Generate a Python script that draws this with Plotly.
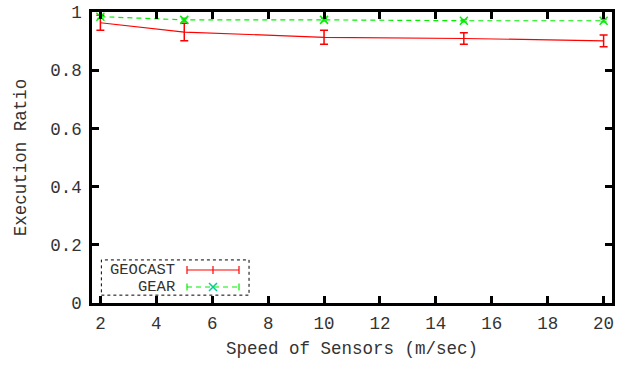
import plotly.graph_objects as go

# Sensor speeds (m/sec)
speeds = [2, 5, 10, 15, 20]

# Execution ratio per protocol, with error-bar half widths
geocast = [0.963, 0.931, 0.913, 0.909, 0.901]
geocast_err = [0.026, 0.030, 0.024, 0.020, 0.020]
gear = [0.984, 0.973, 0.973, 0.970, 0.970]
gear_err = [0.006, 0.006, 0.004, 0.004, 0.004]

x_ticks = [2, 4, 6, 8, 10, 12, 14, 16, 18, 20]
y_ticks = [0, 0.2, 0.4, 0.6, 0.8, 1]
y_tick_text = ["0", "0.2", "0.4", "0.6", "0.8", "1"]

RED = "#ff0000"
GREEN = "#00ee00"
FONT = "Liberation Mono"
FSIZE = 17.5
KEY_FSIZE = 15.5
TXT = "#333"

fig = go.Figure()

fig.add_trace(go.Scatter(
    x=speeds, y=geocast, mode="lines", name="GEOCAST",
    line=dict(color=RED, width=1.2),
    error_y=dict(type="data", array=geocast_err, visible=True,
                 color=RED, thickness=1.5, width=4),
))
fig.add_trace(go.Scatter(
    x=speeds, y=gear, mode="lines+markers", name="GEAR",
    line=dict(color=GREEN, width=1.2, dash="5px,4px"),
    marker=dict(symbol="x-thin-open", size=8, line=dict(color=GREEN, width=1.5)),
    error_y=dict(type="data", array=gear_err, visible=True,
                 color=GREEN, thickness=1.2, width=3),
))

# Key drawn on an overlay axis pair spanning the plot area
key_x0, key_x1 = 0.1827, 0.2827
key_rows = {"GEOCAST": 0.1134, "GEAR": 0.055}
fig.add_trace(go.Scatter(
    x=[(key_x0 + key_x1) / 2], y=[key_rows["GEAR"]], mode="markers",
    xaxis="x2", yaxis="y2", showlegend=False, hoverinfo="skip",
    marker=dict(symbol="x-thin-open", size=8, line=dict(color=GREEN, width=1.5)),
))

shapes = [
    # key frame
    dict(type="rect", xref="paper", yref="paper", x0=0.018, x1=0.302, y0=0.027, y1=0.148,
         line=dict(color="black", width=1, dash="dot")),
    # GEOCAST sample
    dict(type="line", xref="paper", yref="paper", x0=key_x0, x1=key_x1,
         y0=key_rows["GEOCAST"], y1=key_rows["GEOCAST"], line=dict(color=RED, width=1.2)),
]
for xc in (key_x0, (key_x0 + key_x1) / 2, key_x1):
    shapes.append(dict(type="line", xref="paper", yref="paper", x0=xc, x1=xc,
                       y0=key_rows["GEOCAST"] - 0.014, y1=key_rows["GEOCAST"] + 0.014,
                       line=dict(color=RED, width=1.2)))
shapes.append(dict(type="line", xref="paper", yref="paper", x0=key_x0, x1=key_x1,
                   y0=key_rows["GEAR"], y1=key_rows["GEAR"],
                   line=dict(color=GREEN, width=1.2, dash="5px,4px")))
for xc in (key_x0, key_x1):
    shapes.append(dict(type="line", xref="paper", yref="paper", x0=xc, x1=xc,
                       y0=key_rows["GEAR"] - 0.012, y1=key_rows["GEAR"] + 0.012,
                       line=dict(color=GREEN, width=1.2)))

annotations = [
    dict(text=name, xref="paper", yref="paper", x=0.1615, y=yy, xanchor="right",
         yanchor="middle", showarrow=False, borderpad=0,
         font=dict(family=FONT, size=KEY_FSIZE, color=TXT))
    for name, yy in key_rows.items()
]

axis_common = dict(
    showgrid=False, zeroline=False, showline=True, linecolor="black", linewidth=2.5,
    mirror="ticks", ticks="inside", ticklen=7, tickwidth=2.5, tickcolor="black",
    tickfont=dict(family=FONT, size=FSIZE, color=TXT), automargin=False,
)

fig.update_layout(
    width=619, height=366,
    margin=dict(l=92, r=7, t=12, b=63),
    paper_bgcolor="white", plot_bgcolor="white",
    showlegend=False,
    xaxis=dict(range=[1.7, 20.3], tickvals=x_ticks, ticklabelstandoff=2,
               title=dict(text="Speed of Sensors (m/sec)", standoff=9,
                          font=dict(family=FONT, size=FSIZE, color=TXT)),
               **axis_common),
    yaxis=dict(range=[0, 1], tickvals=y_ticks, ticktext=y_tick_text, ticklabelstandoff=4,
               title=dict(text="Execution Ratio", standoff=20,
                          font=dict(family=FONT, size=FSIZE, color=TXT)),
               **axis_common),
    xaxis2=dict(overlaying="x", range=[0, 1], visible=False, domain=[0, 1]),
    yaxis2=dict(overlaying="y", range=[0, 1], visible=False, domain=[0, 1]),
    shapes=shapes,
    annotations=annotations,
)

fig.write_html("out.html")
